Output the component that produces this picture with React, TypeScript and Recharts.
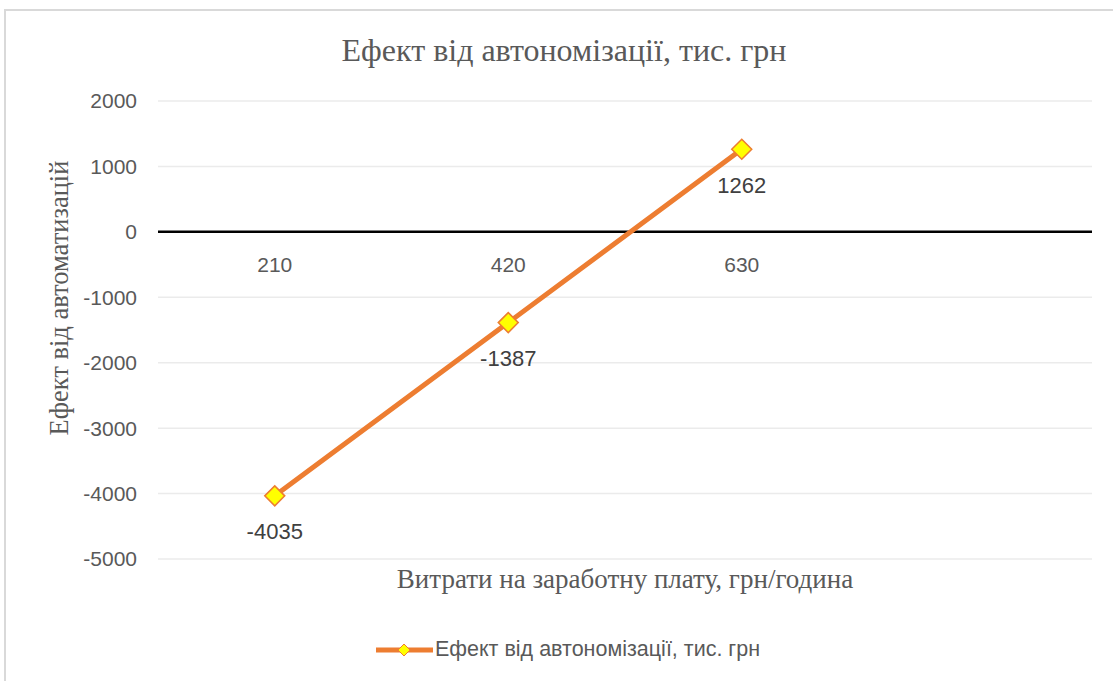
import React from 'react';
import {
  LineChart,
  Line,
  XAxis,
  YAxis,
  CartesianGrid,
  ReferenceLine,
  ReferenceDot,
  LabelList,
  Legend,
} from 'recharts';

const categories = ['210', '420', '630', ''];
const effectValues: (number | null)[] = [-4035, -1387, 1262, null];
const yTicks = [-5000, -4000, -3000, -2000, -1000, 0, 1000, 2000];
const chartTitle = 'Ефект від автономізації, тис. грн';
const seriesName = 'Ефект від автономізації, тис. грн';
const xTitle = 'Витрати на заработну плату, грн/година';
const yTitle = 'Ефект від автоматизацій';

const data = categories.map((c, i) => ({ cat: c, value: effectValues[i] }));

const ORANGE = '#ED7D31';
const YELLOW = '#FFFF00';
const SANS = '"Liberation Sans", Arial, sans-serif';
const SERIF = '"Liberation Serif", "Times New Roman", serif';

const Diamond = (props: any) => {
  const { cx, cy, value, index } = props;
  if (cx == null || cy == null || value == null) return <g key={`d-${index}`} />;
  const r = 10;
  return (
    <path
      key={`d-${index}`}
      d={`M${cx},${cy - r}L${cx + r},${cy}L${cx},${cy + r}L${cx - r},${cy}Z`}
      fill={YELLOW}
      stroke={ORANGE}
      strokeWidth={1.5}
    />
  );
};

const LegendContent = () => (
  <div
    style={{
      display: 'flex',
      justifyContent: 'center',
      alignItems: 'center',
      fontFamily: SANS,
      fontSize: 21.5,
      color: '#595959',
      paddingLeft: 22,
    }}
  >
    <svg width={60} height={20} style={{ display: 'block' }}>
      <line x1={1} y1={10} x2={58} y2={10} stroke={ORANGE} strokeWidth={5} />
      <path d="M29,4L35,10L29,16L23,10Z" fill={YELLOW} stroke={ORANGE} strokeWidth={1} />
    </svg>
    <span>{seriesName}</span>
  </div>
);

const YTitle = (props: any) => {
  const vb = props.viewBox || {};
  const x = (vb.x || 0) + 59;
  const y = (vb.y || 0) + (vb.height || 0) / 2 - 32;
  return (
    <text
      x={x}
      y={y}
      transform={`rotate(-90 ${x} ${y})`}
      textAnchor="middle"
      dominantBaseline="central"
      fontFamily={SERIF}
      fontSize={26.5}
      fill="#595959"
    >
      {yTitle}
    </text>
  );
};

export default function App() {
  return (
    <div
      style={{
        position: 'absolute',
        left: 0,
        top: 0,
        width: 1113,
        height: 681,
        overflow: 'hidden',
        background: '#ffffff',
      }}
    >
      <div
        style={{
          position: 'absolute',
          left: 4,
          top: 9,
          width: 1200,
          height: 800,
          border: '2px solid #d9d9d9',
          boxSizing: 'border-box',
        }}
      />
      <div
        style={{
          position: 'absolute',
          left: 0,
          top: 32,
          width: 1128,
          textAlign: 'center',
          fontFamily: SERIF,
          fontSize: 32,
          lineHeight: '37px',
          color: '#595959',
        }}
      >
        {chartTitle}
      </div>
      <div style={{ position: 'absolute', left: 0, top: 0 }}>
        <LineChart
          width={1113}
          height={681}
          data={data}
          margin={{ top: 101, right: 21, left: 0, bottom: 82 }}
        >
          <CartesianGrid vertical={false} stroke="#ebebeb" strokeWidth={1.5} />
          <XAxis
            dataKey="cat"
            scale="band"
            tick={false}
            axisLine={false}
            tickLine={false}
            height={40}
            label={{
              value: xTitle,
              position: 'insideTop',
              offset: 10,
              fontFamily: SERIF,
              fontSize: 27,
              fill: '#595959',
            }}
          />
          <YAxis
            domain={[-5000, 2000]}
            ticks={yTicks}
            interval={0}
            allowDataOverflow
            width={158}
            axisLine={false}
            tickLine={false}
            tickSize={0}
            tickMargin={21}
            tick={{ fontFamily: SANS, fontSize: 21, fill: '#595959' }}
            label={<YTitle />}
          />
          <ReferenceLine y={0} stroke="#000000" strokeWidth={2.5} />
          {categories
            .filter((c) => c !== '')
            .map((c) => (
              <ReferenceDot
                key={c}
                x={c}
                y={0}
                r={0}
                fill="none"
                stroke="none"
                label={{
                  value: c,
                  position: 'bottom',
                  offset: 25,
                  fontFamily: SANS,
                  fontSize: 21,
                  fill: '#595959',
                }}
              />
            ))}
          <Line
            type="linear"
            dataKey="value"
            name={seriesName}
            stroke={ORANGE}
            strokeWidth={5}
            dot={Diamond}
            activeDot={false}
            isAnimationActive={false}
          >
            <LabelList
              dataKey="value"
              position="bottom"
              offset={28}
              fontFamily={SANS}
              fontSize={22}
              fill="#404040"
            />
          </Line>
          <Legend
            layout="horizontal"
            verticalAlign="middle"
            align="center"
            wrapperStyle={{ top: 637, left: 0, width: 1113, height: 26 }}
            content={<LegendContent />}
          />
        </LineChart>
      </div>
    </div>
  );
}
